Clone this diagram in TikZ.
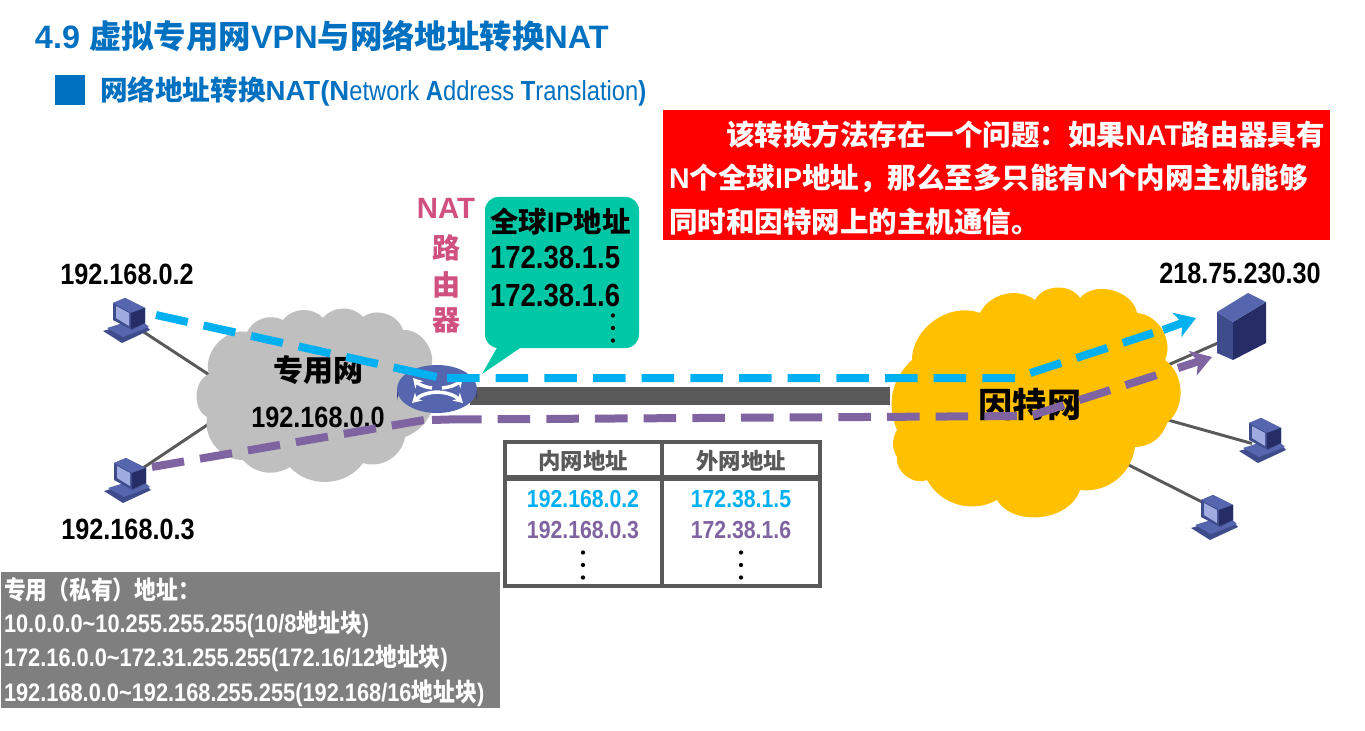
\documentclass[tikz,border=0pt]{standalone}
\usepackage{fontspec}
\usetikzlibrary{arrows.meta}
\setmainfont{Liberation Sans}
\newfontfamily\cjk{Noto Sans CJK SC}
\newfontfamily\nar[FakeStretch=0.86]{Liberation Sans}
\newfontfamily\cjkn[FakeStretch=0.86]{Noto Sans CJK SC}
\newcommand{\C}[1]{{\cjk #1}}
\newcommand{\Cn}[1]{{\cjkn #1}}
\definecolor{titleblue}{HTML}{0070C0}
\definecolor{lineblue}{HTML}{00B0F0}
\definecolor{linepurple}{HTML}{8064A2}
\definecolor{callout}{HTML}{00C8A6}
\definecolor{cloudgray}{HTML}{BFBFBF}
\definecolor{cloudgold}{HTML}{FFC000}
\definecolor{natpink}{HTML}{D0507F}
\definecolor{barg}{HTML}{595959}
\definecolor{boxgray}{HTML}{7F7F7F}
\definecolor{devtop}{HTML}{5566AE}
\definecolor{devdark}{HTML}{262D66}
\definecolor{devmid}{HTML}{3F4C8C}
\definecolor{devscreen}{HTML}{A0ABE0}
\tikzset{
  x=0.75pt,y=-0.75pt,
  txt/.style={inner sep=0pt,outer sep=0pt,align=center},
  hub/.style={inner sep=0pt,outer sep=0pt,minimum size=0pt},
  lab/.style={txt,font=\nar\bfseries\fontsize{22}{26}\selectfont,text=black},
  tcell/.style={txt,font=\nar\bfseries\fontsize{18.5}{22}\selectfont},
  notetext/.style={txt,anchor=west,text=white,font=\bfseries\fontsize{21.4}{25}\selectfont},
  graytext/.style={txt,anchor=west,text=white,font=\nar\bfseries\fontsize{19}{23}\selectfont},
  wire/.style={draw=barg,line width=2.2pt},
  flow/.style={line width=6pt,dash pattern=on 24.4pt off 12.1pt},
  headb/.style={line width=6pt,-{Stealth[length=15pt,width=19pt,inset=4pt]}},
  pc/.pic={
    \fill[devmid] (-24,13) -- (13,2) -- (23,12) -- (-5,25) -- cycle;
    \fill[devtop] (-20,10) -- (12,0) -- (22,9) -- (-4,19) -- cycle;
    \fill[devmid] (-14,2) -- (5,12) -- (18,5) -- (18,-10) -- (-2,-20) -- (-14,-15) -- cycle;
    \fill[devtop] (-14,-15) -- (-2,-20) -- (18,-10) -- (4,-5) -- cycle;
    \fill[devdark] (4,-5) -- (18,-10) -- (18,5) -- (4,11) -- cycle;
    \fill[devscreen] (-11,-12) -- (2,-5) -- (2,8) -- (-11,0) -- cycle;
  },
  dotv/.pic={
    \fill[black] (0,-12.5) circle (1.6pt);
    \fill[black] (0,0) circle (1.6pt);
    \fill[black] (0,12.5) circle (1.6pt);
  },
}
\begin{document}
\begin{tikzpicture}
\useasboundingbox (0,0) rectangle (1365,731);
\fill[white] (0,0) rectangle (1365,731);

% titles
\node[txt,anchor=west,text=titleblue,font=\bfseries\fontsize{24.3}{28}\selectfont] (title) at (35,36) {4.9 \C{虚拟专用网}VPN\C{与网络地址转换}NAT};
\fill[titleblue] (55,75) rectangle (85,105);
\node[txt,anchor=west,text=titleblue,font=\fontsize{20.7}{24}\selectfont] (subtitle) at (100,91) {\textbf{\C{网络地址转换}NAT(N}\nar etwork \textbf{A}ddress \textbf{T}ranslation\textbf{)}};

% red note
\node[fill=red,minimum width=667*0.75pt,minimum height=130*0.75pt,inner sep=0pt,anchor=north west] (note) at (663,110) {};
\node[notetext] (n1) at (726,135) {\C{该转换方法存在一个问题：如果}NAT\C{路由器具有}};
\node[notetext] (n2) at (669,178) {N\C{个全球}IP\C{地址，那么至多只能有}N\C{个内网主机能够}};
\node[notetext] (n3) at (669,222) {\C{同时和因特网上的主机通信。}};

% device hubs
\node[hub] (pc1) at (127,318) {};
\node[hub] (pc2) at (128,478) {};
\node[hub] (pc3) at (1263,438) {};
\node[hub] (pc4) at (1215,515) {};
\node[hub] (server) at (1218,343) {};
\node[hub] (router) at (437,393) {};
\coordinate (pc1w) at (133,325);
\coordinate (pc3w) at (1252,443.5);
\coordinate (pc4w) at (1208,505);
\coordinate (privA) at (240,395);
\coordinate (privB) at (240,403);
\coordinate (inetA) at (1100,395);
\coordinate (inetB) at (1100,401);
\coordinate (inetC) at (1093,447);

% wires
\draw[wire] (pc1w) -- (privA);
\draw[wire] (pc2) -- (privB);
\draw[wire] (server) -- (inetA);
\draw[wire] (pc3w) -- (inetB);
\draw[wire] (pc4w) -- (inetC);

% private cloud
\fill[cloudgray] (207,417) to[bend left=65] (209,374) to[bend left=60] (247,332)
  to[bend left=45] (283,320) to[bend left=50] (323,318) to[bend left=50] (363,317)
  to[bend left=55] (403,330) to[bend left=60] (430,370) to[bend left=50] (405,437)
  to[bend left=50] (363,463) to[bend left=52] (290,467) to[bend left=40] (243,460)
  to[bend left=50] cycle;

% internet cloud
\fill[cloudgold] (897,430) to[bend left=35] (912,360) to[bend left=55] (980,313)
  to[bend left=50] (1035,300) to[bend left=60] (1080,298) to[bend left=65] (1137,313)
  to[bend left=55] (1165,360) to[bend left=52] (1167,423) to[bend left=35] (1135,447)
  to[bend left=45] (1080,490) to[bend left=65] (997,500) to[bend left=45] (927,480)
  to[bend left=60] (897,457) to[bend left=30] cycle;

% backbone bar
\node[hub] (barstart) at (470,396) {};
\node[hub] (barend) at (890,396) {};
\draw[barg,line width=13.5pt] (barstart) -- (barend);

% router
\fill[devdark!70!devtop] (397,389) -- (397,401) arc[start angle=180,end angle=360,x radius=40,y radius=22] -- (477,389) -- cycle;
\fill[devtop] (437,389) ellipse[x radius=40,y radius=24];
\draw[white,line width=2.6pt,-{Stealth[length=7pt,width=8pt]}] (437,392) to[bend right=20] (412,403);
\draw[white,line width=2.6pt,-{Stealth[length=7pt,width=8pt]}] (437,392) to[bend left=20] (463,403);
\draw[white,line width=2.6pt,-{Stealth[length=7pt,width=8pt]}] (432,388) to[bend left=20] (413,378);
\draw[white,line width=2.6pt,-{Stealth[length=7pt,width=8pt]}] (442,388) to[bend right=20] (463,378);

% computers and server
\pic at (pc1) {pc};
\pic at (pc2) {pc};
\pic at (pc3) {pc};
\pic at (pc4) {pc};
\fill[devmid] (1217,312) -- (1233,322) -- (1233,360) -- (1217,353) -- cycle;
\fill[devdark] (1233,322) -- (1266,302) -- (1266,343) -- (1233,360) -- cycle;
\fill[devtop] (1248,293) -- (1266,302) -- (1233,322) -- (1217,312) -- cycle;

% cloud & device labels
\node[txt,text=black,font=\bfseries\fontsize{22.5}{26}\selectfont] (privname) at (318,370) {\C{专用网}};
\node[lab] (privnet) at (318,417) {192.168.0.0};
\node[txt,text=black,font=\bfseries\fontsize{25.6}{30}\selectfont] (inetname) at (1030,405) {\C{因特网}};
\node[lab] (ip2) at (127,274) {192.168.0.2};
\node[lab] (ip3) at (128,529) {192.168.0.3};
\node[lab] (ipsrv) at (1240,273) {218.75.230.30};

% NAT router label
\node[txt,text=natpink,font=\bfseries\fontsize{22}{26}\selectfont] (nat1) at (446,208) {NAT};
\node[txt,text=natpink,font=\bfseries\fontsize{21}{25}\selectfont] (nat2) at (446,248) {\C{路}};
\node[txt,text=natpink,font=\bfseries\fontsize{21}{25}\selectfont] (nat3) at (446,285) {\C{由}};
\node[txt,text=natpink,font=\bfseries\fontsize{21}{25}\selectfont] (nat4) at (446,320) {\C{器}};

% callout
\fill[callout,rounded corners=10pt] (485,197) rectangle (639,348);
\fill[callout] (498,346) -- (482,374) -- (523,346) -- cycle;
\node[txt,anchor=west,text=black,font=\bfseries\fontsize{21.3}{25}\selectfont] (g0) at (490,222) {\C{全球}IP\C{地址}};
\node[lab,anchor=west,font=\nar\bfseries\fontsize{24}{28}\selectfont] (g1) at (490,258) {172.38.1.5};
\node[lab,anchor=west,font=\nar\bfseries\fontsize{24}{28}\selectfont] (g2) at (490,296) {172.38.1.6};
\pic at (613,328) {dotv};

% flows
\coordinate (bA0) at (156,315);
\coordinate (bA1) at (437,377);
\coordinate (bB0) at (447,378);
\coordinate (bB1) at (1015,378);
\coordinate (bB2) at (1153,333);
\coordinate (bH0) at (1163,330);
\coordinate (bH1) at (1196,318);
\coordinate (pA0) at (152,467);
\coordinate (pA1) at (430,419);
\coordinate (pX) at (432,420);
\coordinate (pB0) at (449,419.5);
\coordinate (pB1) at (1030,416);
\coordinate (pB2) at (1163,373);
\coordinate (pH0) at (1178,368);
\coordinate (pH1) at (1212,357);
\draw[flow,lineblue,dash pattern=on 24.4pt off 12.1pt on 24.4pt off 12.1pt on 24.4pt off 12.1pt on 24.4pt off 12.1pt on 24.4pt off 12.1pt on 33pt off 40pt] (bA0) -- (bA1);
\draw[flow,lineblue] (bB0) -- (bB1) -- (bB2);
\draw[headb,lineblue] (bH0) -- (bH1);
\draw[flow,linepurple] (pA0) -- (pA1);
\draw[line width=6pt,linepurple] (pX) -- (pB0);
\draw[flow,linepurple] (pB0) -- (pB1) -- (pB2);
\draw[headb,linepurple] (pH0) -- (pH1);

% table
\draw[barg,line width=3pt] (505,442) rectangle (820,586);
\draw[barg,line width=3pt] (662,442) -- (662,586);
\draw[barg,line width=3.8pt] (505,478) -- (820,478);
\node[tcell,text=barg,font=\bfseries\fontsize{16.8}{20}\selectfont] (h1) at (583,461) {\C{内网地址}};
\node[tcell,text=barg,font=\bfseries\fontsize{16.8}{20}\selectfont] (h2) at (741,461) {\C{外网地址}};
\node[tcell,text=lineblue] (c11) at (583,499) {192.168.0.2};
\node[tcell,text=lineblue] (c12) at (741,499) {172.38.1.5};
\node[tcell,text=linepurple] (c21) at (583,530) {192.168.0.3};
\node[tcell,text=linepurple] (c22) at (741,530) {172.38.1.6};
\pic at (583,565) {dotv};
\pic at (741,565) {dotv};

% private address box
\node[fill=boxgray,minimum width=499*0.75pt,minimum height=136*0.75pt,inner sep=0pt,anchor=north west] (pbox) at (1,572) {};
\node[graytext] (p0) at (4,590) {\Cn{专用（私有）地址：}};
\node[graytext] (p1) at (4,624) {10.0.0.0\textasciitilde10.255.255.255(10/8\Cn{地址块})};
\node[graytext] (p2) at (4,658) {172.16.0.0\textasciitilde172.31.255.255(172.16/12\Cn{地址块})};
\node[graytext] (p3) at (4,693) {192.168.0.0\textasciitilde192.168.255.255(192.168/16\Cn{地址块})};
\end{tikzpicture}
\end{document}
